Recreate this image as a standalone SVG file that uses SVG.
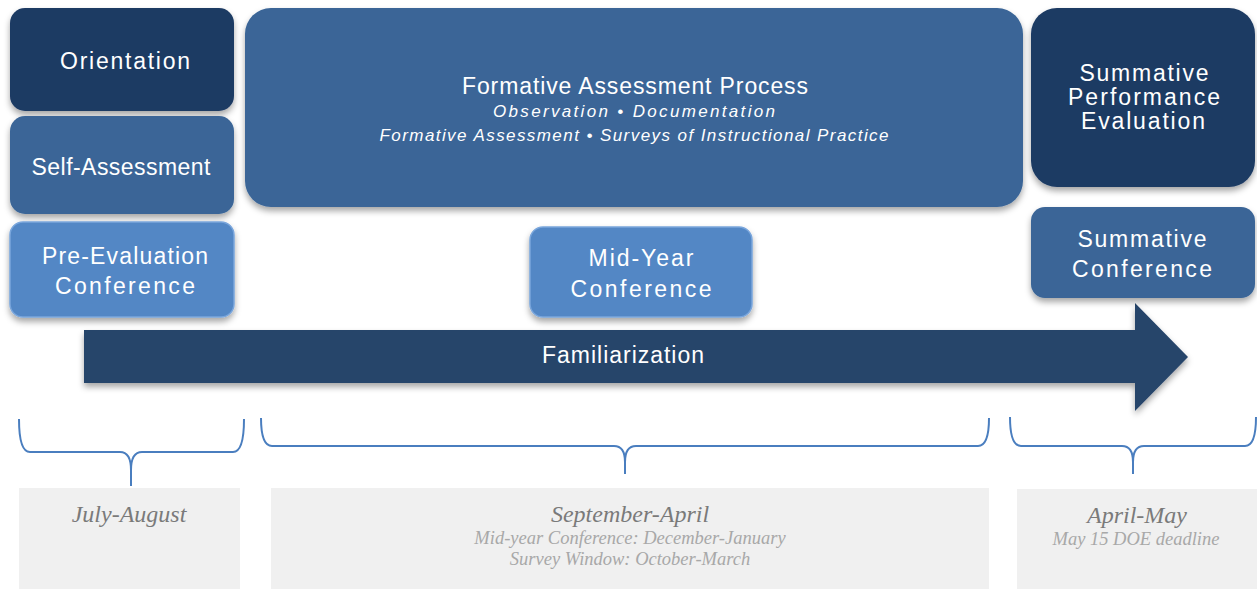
<svg xmlns="http://www.w3.org/2000/svg" width="1257" height="589" viewBox="0 0 1257 589">
<defs>
<filter id="sh" x="-10%" y="-10%" width="120%" height="130%">
<feDropShadow dx="0" dy="4" stdDeviation="3" flood-color="#000" flood-opacity="0.35"/>
</filter>
<style>
.t{font-family:"Liberation Sans",Arial,sans-serif;fill:#fff;text-anchor:middle;font-size:23px}
.ti{font-family:"Liberation Sans",Arial,sans-serif;fill:#fff;text-anchor:middle;font-size:17px;font-style:italic}
.dark{fill:#1c3a63}
.mid{fill:#3a6597}
.light{fill:#5287c5;stroke:#7aa6dc;stroke-width:1.5}
.brace{fill:none;stroke:#4a7ebf;stroke-width:2}
.gbox{fill:#f0f0f0}
.s1{font-family:"Liberation Serif","Times New Roman",serif;font-style:italic;fill:#7a7a7a;text-anchor:middle;font-size:24px}
.s2{font-family:"Liberation Serif","Times New Roman",serif;font-style:italic;fill:#a8a8a8;text-anchor:middle;font-size:18.5px}
</style>
</defs>
<rect width="1257" height="589" fill="#fff"/>
<g id="connectors">
<path id="familiarization-arrow" d="M84 330 H1135 V303 L1188 357 L1135 411 V383 H84 Z" fill="#26446a" filter="url(#sh)"/>
<text class="t" x="623" y="363" textLength="162">Familiarization</text>
<path class="brace" d="M19 419 Q19 452 30 452 H120 Q131 452 131 470 V486 M131 470 Q131 452 142 452 H233 Q244 452 244 419"/>
<path class="brace" d="M261 418 Q261 446 272 446 H614 Q625 446 625 462 V474 M625 462 Q625 446 636 446 H978 Q989 446 989 418"/>
<path class="brace" d="M1010 417 Q1010 446 1021 446 H1122 Q1133 446 1133 462 V474 M1133 462 Q1133 446 1144 446 H1245 Q1256 446 1256 417"/>
</g>
<g id="orientation">
<rect class="dark" x="10" y="8" width="224" height="103" rx="15" filter="url(#sh)"/>
<text class="t" x="125" y="69" textLength="130">Orientation</text>
</g>
<g id="self-assessment">
<rect class="mid" x="10" y="116" width="224" height="98" rx="15" filter="url(#sh)"/>
<text class="t" x="121" y="175" textLength="179">Self-Assessment</text>
</g>
<g id="pre-evaluation">
<rect class="light" x="10" y="222" width="224" height="95" rx="13" filter="url(#sh)"/>
<text class="t" x="125" y="264" textLength="166">Pre-Evaluation</text>
<text class="t" x="125" y="294" textLength="140">Conference</text>
</g>
<g id="formative">
<rect class="mid" x="245" y="8" width="778" height="199" rx="26" filter="url(#sh)"/>
<text class="t" x="635" y="94" textLength="346">Formative Assessment Process</text>
<text class="ti" x="634" y="117" textLength="282">Observation  • Documentation</text>
<text class="ti" x="634" y="141" textLength="509">Formative Assessment  • Surveys of Instructional Practice</text>
</g>
<g id="mid-year">
<rect class="light" x="530" y="227" width="222" height="90" rx="13" filter="url(#sh)"/>
<text class="t" x="641" y="266" textLength="105">Mid-Year</text>
<text class="t" x="641" y="297" textLength="141">Conference</text>
</g>
<g id="summative-eval">
<rect class="dark" x="1031" y="8" width="224" height="179" rx="26" filter="url(#sh)"/>
<text class="t" x="1144" y="81" textLength="129">Summative</text>
<text class="t" x="1144" y="105" textLength="152">Performance</text>
<text class="t" x="1143" y="129" textLength="124">Evaluation</text>
</g>
<g id="summative-conf">
<rect class="mid" x="1031" y="207" width="224" height="91" rx="14" filter="url(#sh)"/>
<text class="t" x="1142" y="247" textLength="129">Summative</text>
<text class="t" x="1142" y="277" textLength="140">Conference</text>
</g>
<g id="july-august">
<rect class="gbox" x="19" y="488" width="221" height="101"/>
<text class="s1" x="129" y="522" font-size="23">July-August</text>
</g>
<g id="september-april">
<rect class="gbox" x="271" y="488" width="718" height="101"/>
<text class="s1" x="630" y="522">September-April</text>
<text class="s2" x="630" y="544">Mid-year Conference: December-January</text>
<text class="s2" x="630" y="565">Survey Window: October-March</text>
</g>
<g id="april-may">
<rect class="gbox" x="1017" y="489" width="240" height="100"/>
<text class="s1" x="1137" y="523">April-May</text>
<text class="s2" x="1136" y="545">May 15 DOE deadline</text>
</g>
</svg>
